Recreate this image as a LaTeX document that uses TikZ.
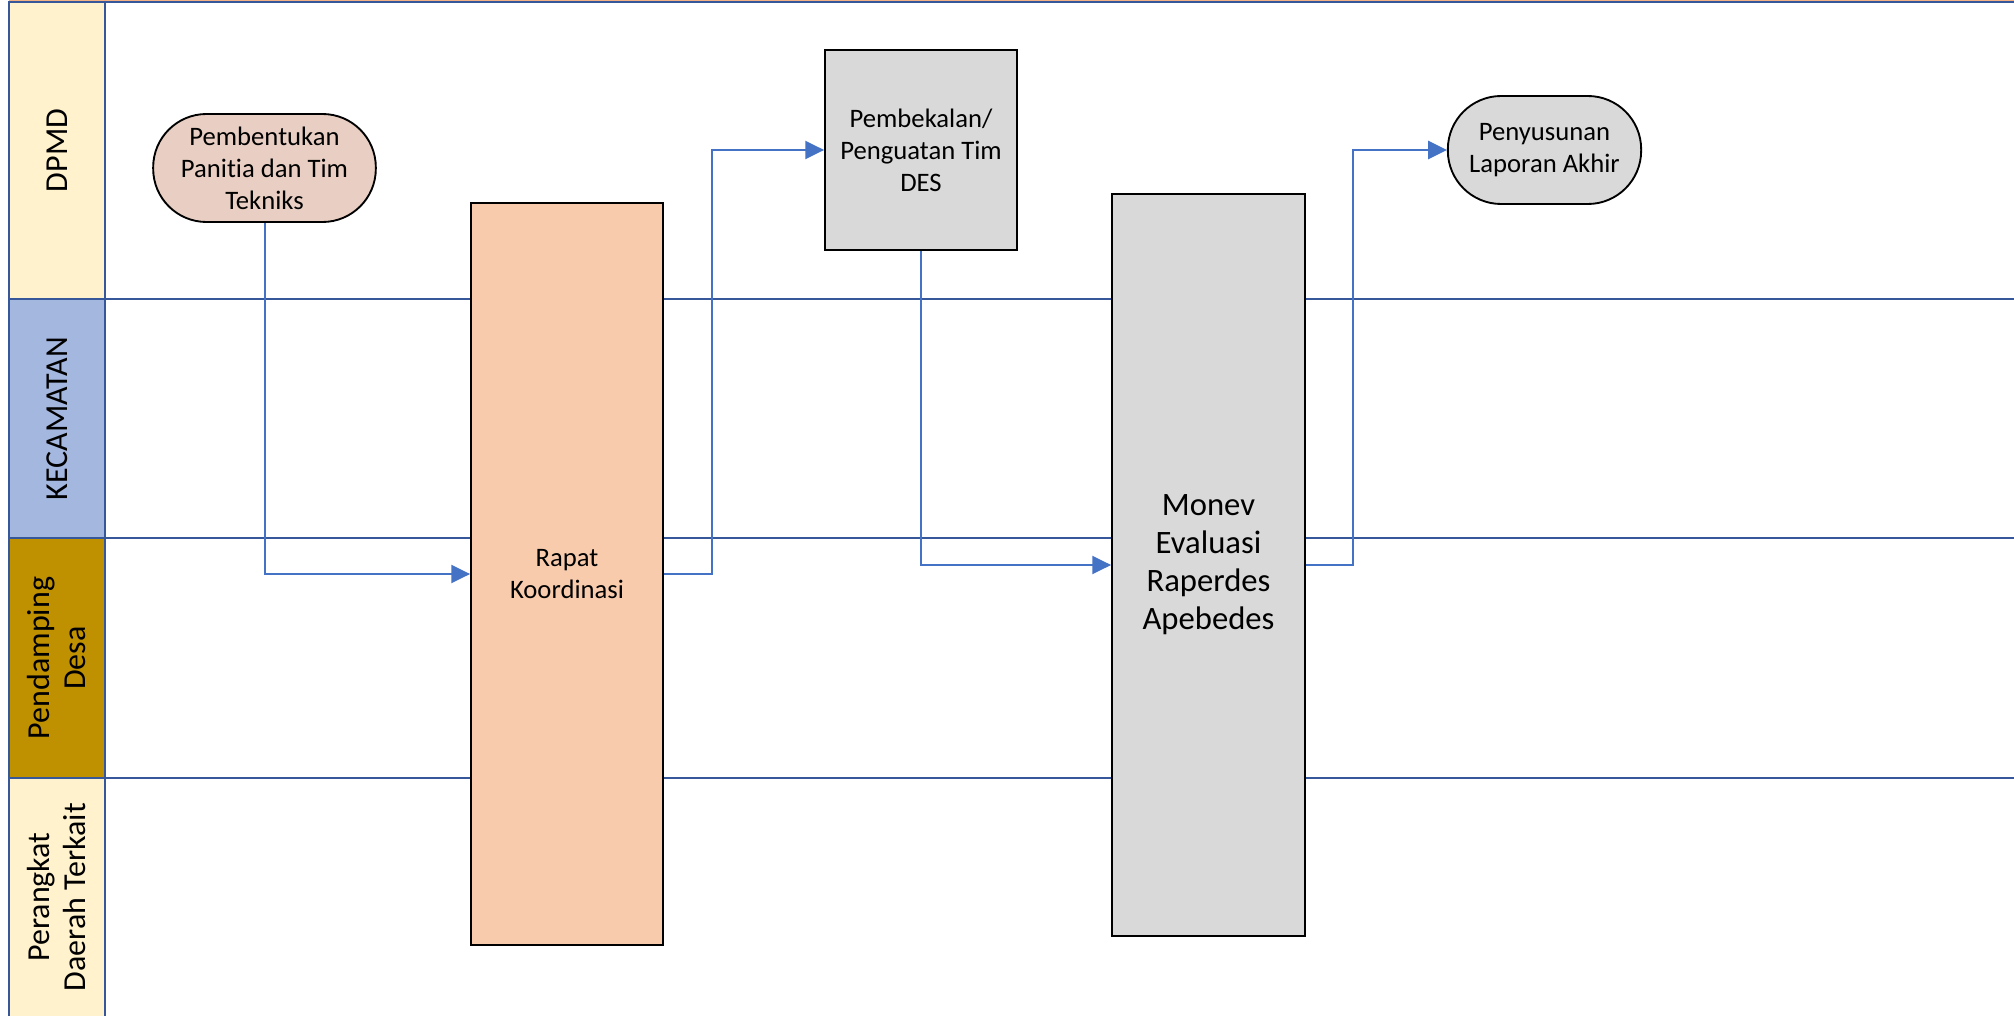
\documentclass[tikz,border=0pt]{standalone}
\usepackage{fontspec}
\setmainfont{Carlito}[Ligatures=CommonOff]
\usetikzlibrary{arrows.meta}

\definecolor{laneline}{HTML}{36589A}
\definecolor{flow}{HTML}{4472C4}
\definecolor{hdryellow}{HTML}{FFF2CC}
\definecolor{hdrblue}{HTML}{A4B7DF}
\definecolor{hdrgold}{HTML}{BF9000}
\definecolor{startfill}{HTML}{E9CFC3}
\definecolor{rapatfill}{HTML}{F8CBAD}
\definecolor{grayfill}{HTML}{D9D9D9}
\definecolor{topedge}{HTML}{F4B183}

\tikzset{
  laneborder/.style={draw=laneline, line width=1.6pt},
  lanetext/.style={rotate=90, align=center, font=\fontsize{24}{27}\selectfont},
  procbox/.style={draw=black, line width=1.4pt, inner sep=0pt, align=center,
    font=\fontsize{20}{24}\selectfont},
  terminal/.style={procbox, rounded corners=40pt},
  flowline/.style={draw=flow, line width=1.5pt,
    -{Triangle[length=14pt,width=13.5pt]}},
}

\begin{document}
\begin{tikzpicture}[x=0.75pt,y=-0.75pt]
  \useasboundingbox (0,0) rectangle (2014,1016);

  % lane header cells
  \fill[hdryellow] (9,2) rectangle (105,299);
  \fill[hdrblue]   (9,299) rectangle (105,538);
  \fill[hdrgold]   (9,538) rectangle (105,778);
  \fill[hdryellow] (9,778) rectangle (105,1016);

  % lane labels
  \node[lanetext] (hdpmd) at (57,150.5) {DPMD};
  \node[lanetext] (hkec)  at (57,418.5) {KECAMATAN};
  \node[lanetext] (hpd)   at (57,658)   {Pendamping\\Desa};
  \node[lanetext] (hpdt)  at (57,897)   {Perangkat\\Daerah Terkait};

  % pool frame and lane separators
  \draw[topedge, line width=0.6pt] (9,0.4) -- (2014,0.4);
  \draw[laneborder] (9,1.8) -- (2014,1.8);
  \draw[laneborder] (9,1) -- (9,1016);
  \draw[laneborder] (105,1) -- (105,1016);
  \draw[laneborder] (9,299) -- (2014,299);
  \draw[laneborder] (9,538) -- (2014,538);
  \draw[laneborder] (9,778) -- (2014,778);

  % process steps
  \node[terminal, fill=startfill, minimum width=167pt, minimum height=81pt]
    (pem) at (264.5,168) {Pembentukan\\Panitia dan Tim\\Tekniks};
  \node[procbox, fill=rapatfill, minimum width=144pt, minimum height=556.5pt]
    (rapat) at (567,574) {Rapat\\Koordinasi};
  \node[procbox, fill=grayfill, minimum width=144pt, minimum height=150pt]
    (bek) at (921,150) {Pembekalan/\\Penguatan Tim\\DES};
  \node[procbox, fill=grayfill, minimum width=144.75pt, minimum height=556.5pt,
    font=\fontsize{24.5}{28.5}\selectfont]
    (monev) at (1208.5,565) {Monev\\Evaluasi\\Raperdes\\Apebedes};
  \node[terminal, fill=grayfill, minimum width=145pt, minimum height=81pt]
    (lap) at (1544.5,150) {Penyusunan\\Laporan Akhir};

  % connectors
  \draw[flowline] (pem.south) |- (rapat.west);
  \draw[flowline] (rapat.east) -- ++(48,0) |- (bek.west);
  \draw[flowline] (bek.south) |- (monev.west);
  \draw[flowline] (monev.east) -- ++(47,0) |- (lap.west);
\end{tikzpicture}
\end{document}
